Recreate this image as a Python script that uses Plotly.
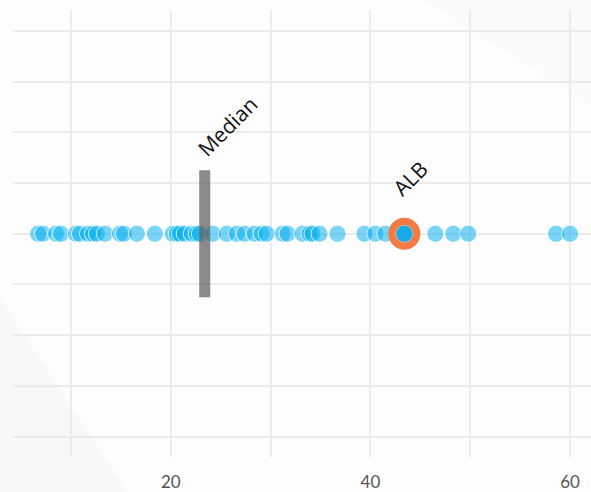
import plotly.graph_objects as go

# values
values = [6.7, 7.2, 8.5, 9.0, 10.5, 10.9, 11.7, 12.2, 12.6, 13.4, 14.9, 15.3,
          16.6, 18.4, 20.2, 20.6, 20.9, 21.4, 22.1, 22.6, 22.9, 24.2, 25.6,
          26.6, 27.4, 28.4, 29.1, 29.6, 31.2, 31.7, 33.2, 33.9, 34.2, 34.9,
          36.7, 39.4, 40.5, 41.5, 43.4, 43.8, 46.5, 48.3, 49.8, 58.6, 60.0]
highlight_label = "ALB"
highlight_value = 43.4
median_label = "Median"
median_value = 23.4
x_tickvals = [20, 40, 60]
x_ticktext = ["20", "40", "60"]

grid = "#ebebeb"
fig = go.Figure()

fig.add_trace(go.Scatter(
    x=values, y=[0] * len(values), mode="markers",
    marker=dict(size=17, color="rgba(0,174,239,0.52)",
                line=dict(width=1, color="rgba(255,255,255,0.75)")),
    hoverinfo="x", showlegend=False))

fig.add_trace(go.Scatter(
    x=[highlight_value], y=[0], mode="markers",
    marker=dict(size=32, color="#f47b43", line=dict(width=0)),
    showlegend=False, hoverinfo="skip"))
fig.add_trace(go.Scatter(
    x=[highlight_value], y=[0], mode="markers",
    marker=dict(size=17, color="rgba(10,174,238,0.95)",
                line=dict(width=1, color="rgba(255,255,255,0.4)")),
    showlegend=False, hoverinfo="skip"))

fig.add_trace(go.Scatter(
    x=[median_value, median_value], y=[-1.25, 1.25], mode="lines",
    line=dict(width=11, color="rgba(90,90,90,0.7)"),
    showlegend=False, hoverinfo="skip"))

fig.add_annotation(x=median_value, y=1.25, text=median_label, showarrow=False,
                   textangle=-45, xshift=23, yshift=44,
                   font=dict(family="Open Sans", size=21, color="#111"))
fig.add_annotation(x=highlight_value, y=0, text=highlight_label, showarrow=False,
                   textangle=-45, xshift=6, yshift=56,
                   font=dict(family="Open Sans", size=21, color="#111"))

# faint decorative background shapes
fig.add_shape(type="path", xref="paper", yref="paper", layer="below",
              path="M -0.03 0.37 L 0.205 -0.09 L -0.03 -0.09 Z",
              fillcolor="#f8f8f8", line=dict(width=0))
fig.add_shape(type="path", xref="paper", yref="paper", layer="below",
              path="M 0.70 1.03 L 1.01 1.03 L 1.01 0.78 Z",
              fillcolor="#fafafa", line=dict(width=0))

fig.update_layout(
    width=591, height=492,
    margin=dict(l=13, r=0, t=10, b=35),
    paper_bgcolor="#fdfdfd", plot_bgcolor="rgba(0,0,0,0)",
    showlegend=False,
    xaxis=dict(range=[4.19, 62.1], tickvals=x_tickvals, ticktext=x_ticktext,
               showgrid=True, gridcolor=grid, gridwidth=2,
               minor=dict(dtick=10, tick0=0, showgrid=True, gridcolor=grid, gridwidth=2),
               zeroline=False, showline=False,
               ticks="outside", ticklen=10, tickcolor="rgba(0,0,0,0)",
               tickfont=dict(family="Lato", size=17, color="#555")),
    yaxis=dict(range=[-4.4, 4.41], dtick=1, tick0=0, showticklabels=False,
               showgrid=True, gridcolor=grid, gridwidth=2,
               zeroline=False, showline=False),
)

fig.write_html("out.html", config={"displayModeBar": False},
               post_script="document.body.style.margin='0';document.body.style.overflow='hidden';")
